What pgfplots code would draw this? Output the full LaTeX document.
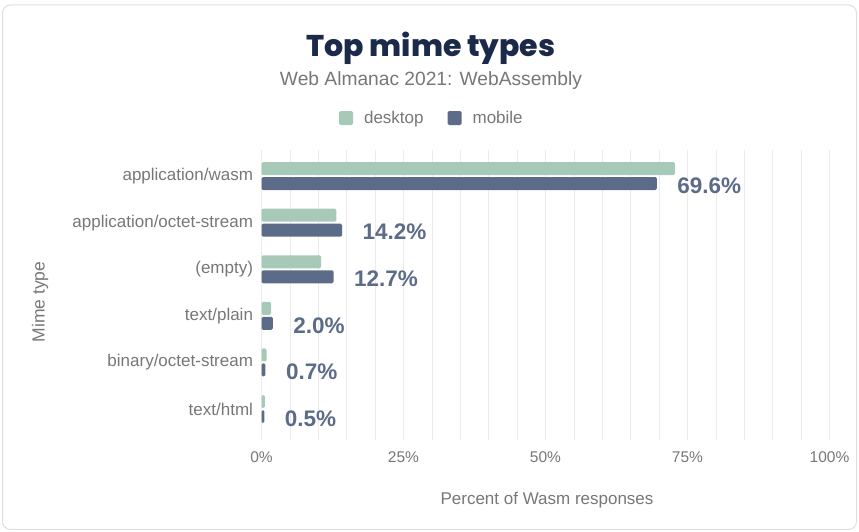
\documentclass[border=0pt]{standalone}
\usepackage{pgfplots}
\pgfplotsset{compat=1.18}
\usepackage{fontspec}
\setmainfont{Liberation Sans}
\newfontfamily\titlefont{Poppins}[UprightFont=* ExtraBold, BoldFont=* ExtraBold]
\definecolor{desk}{HTML}{A6C9B8}
\definecolor{mob}{HTML}{5C6B87}
\definecolor{ttl}{HTML}{1C2A4A}
\definecolor{txt}{HTML}{777777}
\definecolor{grd}{HTML}{EBEBEB}
\begin{document}
\begin{tikzpicture}[x=1pt,y=1pt]
\useasboundingbox (0,0) rectangle (859,532);
\draw[gray!25, line width=1pt, rounded corners=8pt] (2.5,2.5) rectangle (856.5,527);
\node[font=\titlefont\fontsize{30}{32}\selectfont, text=ttl] at (431,484) {Top mime types};
\node[font=\fontsize{19.2}{21}\selectfont, text=txt] at (431,451) {Web Almanac 2021: WebAssembly};
\node[font=\fontsize{17.5}{19}\selectfont, text=txt, rotate=90] at (40,230) {Mime type};
\node[font=\fontsize{17}{19}\selectfont, text=txt] at (547,32) {Percent of Wasm responses};
\begin{axis}[
  at={(261.5pt,92pt)}, anchor=south west,
  scale only axis, width=568pt, height=290pt,
  xbar, bar width=13pt,
  xmin=0, xmax=100, ymin=-0.665, ymax=5.56,
  axis line style={draw=none},
  major tick length=0pt, minor tick length=0pt,
  xtick={0,25,50,75,100},
  xticklabels={0\%,25\%,50\%,75\%,100\%},
  minor xtick={5,10,15,20,30,35,40,45,55,60,65,70,80,85,90,95},
  xmajorgrids, xminorgrids,
  major grid style={grd, line width=0.8pt},
  minor grid style={grd, line width=0.8pt},
  extra x ticks={0}, extra x tick labels={},
  extra x tick style={grid style={draw=gray!80!black, line width=1.1pt}},
  ytick={0,1,2,3,4,5},
  yticklabels={text/html,binary/octet-stream,text/plain,(empty),application/octet-stream,application/wasm},
  y tick label style={font=\fontsize{17}{19}\selectfont, text=txt, anchor=east, xshift=-5pt},
  x tick label style={font=\fontsize{15.5}{17}\selectfont, text=txt, yshift=-8pt},
  /pgf/number format/assume math mode=true,
  legend style={at={(0.30,1.11)}, anchor=center, draw=none, fill=none,
    legend columns=2, font=\fontsize{17}{19}\selectfont, text=txt,
    /tikz/every even column/.append style={column sep=22pt}},
  legend image code/.code={\fill[#1,rounded corners=1.5pt] (0pt,-7pt) rectangle (14pt,7pt);},
]
\addplot[fill=desk, draw=none, bar shift=7.5pt, rounded corners=1.5pt] coordinates {
(72.8,5) (13.2,4) (10.5,3) (1.7,2) (0.9,1) (0.6,0)};
\addlegendentry{\hspace{9pt}desktop}
\addplot[fill=mob, draw=none, bar shift=-7.5pt, rounded corners=1.5pt,
  nodes near coords={\pgfmathprintnumber[fixed,precision=1,fixed zerofill]{\pgfplotspointmeta}\%},
  point meta=x,
  nodes near coords style={anchor=west, xshift=17pt, yshift=-2pt, text=mob, font=\bfseries\fontsize{22.5}{24}\selectfont}] coordinates {
(69.6,5) (14.2,4) (12.7,3) (2.0,2) (0.7,1) (0.5,0)};
\addlegendentry{\hspace{9pt}mobile}
\end{axis}
\end{tikzpicture}
\end{document}
